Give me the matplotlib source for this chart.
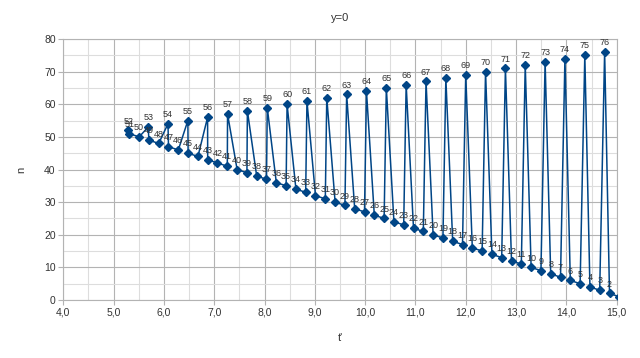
import matplotlib
matplotlib.use("Agg")
import matplotlib.pyplot as plt
from matplotlib.ticker import MultipleLocator, FuncFormatter

# t' values, sorted ascending (the chart joins points in this order)
T_PRIME = [
    5.292, 5.312, 5.507, 5.687, 5.702, 5.896, 6.081, 6.091, 6.286, 6.476,
    6.481, 6.676, 6.868, 6.870, 7.065, 7.260, 7.265, 7.455, 7.650, 7.659,
    7.844, 8.039, 8.054, 8.234, 8.429, 8.448, 8.624, 8.818, 8.843, 9.013,
    9.208, 9.237, 9.403, 9.598, 9.632, 9.792, 9.987, 10.026, 10.182, 10.377,
    10.421, 10.572, 10.766, 10.815, 10.961, 11.156, 11.210, 11.351, 11.546, 11.604,
    11.740, 11.935, 11.999, 12.130, 12.325, 12.393, 12.520, 12.714, 12.788, 12.909,
    13.104, 13.182, 13.299, 13.494, 13.577, 13.688, 13.883, 13.971, 14.078, 14.273,
    14.366, 14.468, 14.662, 14.760, 14.857, 15.052,
]

N_VALUES = [
    52, 51, 50, 53, 49, 48, 54, 47, 46, 55,
    45, 44, 56, 43, 42, 41, 57, 40, 39, 58,
    38, 37, 59, 36, 35, 60, 34, 33, 61, 32,
    31, 62, 30, 29, 63, 28, 27, 64, 26, 25,
    65, 24, 23, 66, 22, 21, 67, 20, 19, 68,
    18, 17, 69, 16, 15, 70, 14, 13, 71, 12,
    11, 72, 10, 9, 73, 8, 7, 74, 6, 5,
    75, 4, 3, 76, 2, 1,
]

TITLE = "y=0"
X_LABEL = "t'"
Y_LABEL = "n"

SERIES_COLOR = "#004586"
TEXT_COLOR = "#333333"

plt.rcParams["font.family"] = ["Liberation Sans", "DejaVu Sans"]

fig = plt.figure(figsize=(6.4, 3.58), dpi=100)
ax = fig.add_axes([0.0989, 0.162, 0.8647, 0.729])

ax.plot(T_PRIME, N_VALUES, color=SERIES_COLOR, linewidth=1.1,
        marker="D", markersize=3.8, zorder=3)

# подписи значений над точками
for t, n in zip(T_PRIME, N_VALUES):
    ax.annotate(str(n), (t, n), xytext=(0, 3.5), textcoords="offset points",
                ha="center", va="bottom", fontsize=6.5, color=TEXT_COLOR,
                zorder=4)

ax.set_xlim(4, 15)
ax.set_ylim(0, 80)
ax.xaxis.set_major_locator(MultipleLocator(1))
ax.xaxis.set_minor_locator(MultipleLocator(0.5))
ax.yaxis.set_major_locator(MultipleLocator(10))
ax.yaxis.set_minor_locator(MultipleLocator(5))
ax.xaxis.set_major_formatter(FuncFormatter(lambda v, _: f"{v:.1f}".replace(".", ",")))

ax.grid(which="major", color="#b3b3b3", linewidth=0.8, zorder=0)
ax.grid(which="minor", color="#dddddd", linewidth=0.8, zorder=0)
ax.set_axisbelow(True)

for spine in ax.spines.values():
    spine.set_color("#b3b3b3")
    spine.set_linewidth(0.8)

ax.tick_params(which="major", length=3.5, width=0.8, color="#b3b3b3",
               labelsize=7.5, labelcolor=TEXT_COLOR, pad=2)
ax.tick_params(which="minor", length=0)

ax.set_title(TITLE, fontsize=8, color=TEXT_COLOR, pad=13)
ax.set_xlabel(X_LABEL, fontsize=8, color=TEXT_COLOR, labelpad=11)
ax.set_ylabel(Y_LABEL, fontsize=8, color=TEXT_COLOR, labelpad=13)

fig.savefig("out.png", dpi=100)
